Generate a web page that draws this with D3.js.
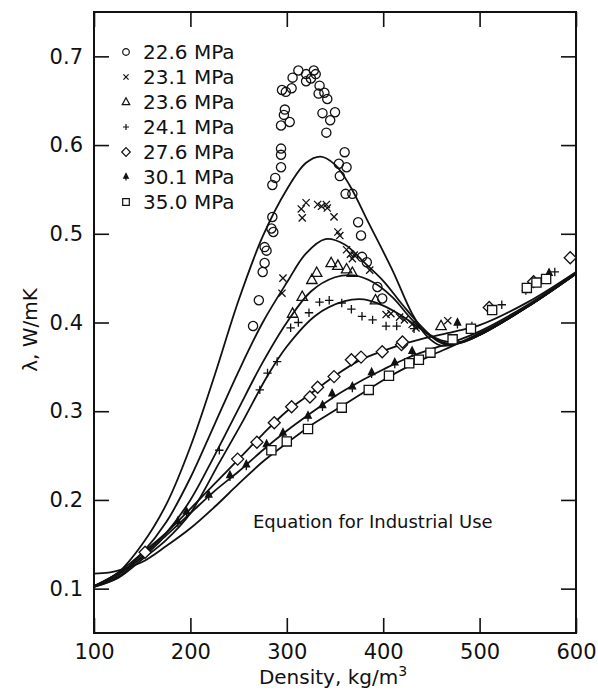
<!DOCTYPE html>
<html><head><meta charset="utf-8">
<script src="https://cdn.jsdelivr.net/npm/d3@7/dist/d3.min.js"></script>
<style>
body{margin:0;background:#fff}
text{font-family:"DejaVu Sans",sans-serif;fill:#111}
</style>
</head><body>
<svg id="chart" width="598" height="691"></svg>
<script>
// ---------- data ----------
const xTickValues = [100, 200, 300, 400, 500, 600];
const yTickValues = [0.1, 0.2, 0.3, 0.4, 0.5, 0.6, 0.7];
const seriesNames = ["22.6 MPa", "23.1 MPa", "23.6 MPa", "24.1 MPa", "27.6 MPa", "30.1 MPa", "35.0 MPa"];
const seriesSymbols = ["circle", "cross", "triangle", "plus", "diamond", "spade", "square"];

// equation curves [density, lambda]
const curve226 = [[100,0.103],[125,0.118],[150,0.15],[175,0.195],[200,0.26],[225,0.34],[250,0.425],[275,0.497],[300,0.55],[320,0.58],[335,0.587],[350,0.578],[365,0.555],[385,0.512],[410,0.458],[430,0.41],[445,0.385],[460,0.374],[480,0.377],[500,0.386],[550,0.418],[600,0.455]];
const curve231 = [[100,0.103],[125,0.115],[150,0.14],[175,0.175],[200,0.225],[225,0.285],[250,0.345],[275,0.40],[300,0.445],[320,0.478],[340,0.494],[360,0.488],[380,0.468],[400,0.447],[420,0.42],[440,0.395],[460,0.377],[480,0.377],[500,0.386],[550,0.418],[600,0.455]];
const curve236 = [[100,0.102],[125,0.113],[150,0.137],[175,0.163],[200,0.2],[225,0.25],[250,0.303],[275,0.355],[300,0.4],[325,0.435],[350,0.451],[370,0.453],[390,0.445],[410,0.428],[430,0.403],[450,0.384],[470,0.376],[500,0.386],[550,0.418],[600,0.455]];
const curve241 = [[100,0.102],[125,0.112],[150,0.133],[175,0.155],[200,0.185],[230,0.242],[255,0.29],[280,0.34],[300,0.373],[330,0.408],[360,0.424],[380,0.426],[400,0.419],[420,0.407],[440,0.392],[460,0.38],[480,0.378],[500,0.386],[550,0.418],[600,0.455]];
const curve276 = [[100,0.102],[125,0.118],[150,0.14],[175,0.163],[200,0.19],[225,0.218],[250,0.246],[275,0.274],[300,0.3],[325,0.32],[350,0.34],[375,0.357],[400,0.368],[425,0.377],[450,0.384],[475,0.39],[500,0.397],[550,0.423],[600,0.457]];
const curve301 = [[100,0.103],[125,0.117],[150,0.135],[175,0.16],[200,0.185],[225,0.21],[250,0.232],[275,0.256],[300,0.278],[325,0.298],[350,0.317],[375,0.333],[400,0.347],[425,0.36],[450,0.37],[475,0.379],[500,0.39],[550,0.42],[600,0.456]];
const curve350 = [[100,0.117],[115,0.118],[130,0.122],[150,0.13],[175,0.148],[200,0.168],[225,0.192],[250,0.218],[275,0.243],[300,0.264],[325,0.284],[350,0.301],[375,0.318],[400,0.335],[425,0.35],[450,0.363],[475,0.375],[500,0.388],[550,0.418],[600,0.455]];

// measured points [density, lambda]
const points226 = [[312,0.684],[320,0.680],[328,0.684],[330,0.680],[306,0.676],[320,0.672],[325,0.675],[295,0.662],[299,0.660],[305,0.664],[334,0.667],[333,0.658],[339,0.659],[342,0.652],[298,0.640],[297,0.634],[303,0.626],[294,0.622],[337,0.636],[350,0.637],[345,0.628],[341,0.614],[294,0.596],[294,0.589],[294,0.575],[288,0.563],[285,0.555],[360,0.592],[354,0.579],[362,0.575],[355,0.565],[361,0.545],[368,0.545],[374,0.513],[377,0.498],[285,0.519],[284,0.506],[286,0.502],[277,0.485],[279,0.481],[277,0.467],[275,0.457],[378,0.474],[383,0.468],[394,0.440],[399,0.427],[271,0.425],[265,0.396]];
const points231 = [[320,0.535],[315,0.528],[316,0.518],[332,0.533],[336,0.531],[341,0.533],[342,0.529],[349,0.519],[353,0.502],[355,0.498],[362,0.482],[366,0.477],[370,0.476],[368,0.472],[386,0.459],[296,0.450],[295,0.433],[403,0.409],[408,0.410],[417,0.406],[422,0.403],[430,0.398],[434,0.394],[467,0.402]];
const points236 = [[346,0.467],[353,0.464],[362,0.460],[368,0.456],[331,0.456],[326,0.448],[316,0.429],[306,0.410],[392,0.425],[460,0.396]];
const points241 = [[334,0.423],[344,0.425],[357,0.422],[323,0.411],[304,0.394],[312,0.400],[367,0.415],[378,0.407],[389,0.403],[403,0.396],[414,0.396],[432,0.393],[290,0.356],[280,0.343],[272,0.324],[230,0.256],[492,0.396],[523,0.420],[548,0.436],[578,0.457]];
const points276 = [[153,0.141],[249,0.246],[269,0.265],[287,0.287],[305,0.305],[324,0.316],[332,0.327],[349,0.339],[367,0.358],[377,0.361],[399,0.367],[419,0.375],[420,0.378],[510,0.417],[556,0.446],[594,0.473]];
const points301 = [[187,0.175],[196,0.186],[219,0.205],[241,0.227],[258,0.239],[279,0.262],[296,0.275],[322,0.294],[337,0.306],[347,0.319],[368,0.327],[388,0.343],[412,0.354],[430,0.367],[477,0.399],[572,0.455]];
const points350 = [[284,0.256],[300,0.266],[322,0.280],[357,0.304],[385,0.324],[406,0.340],[427,0.354],[437,0.358],[449,0.366],[472,0.381],[491,0.393],[513,0.414],[549,0.439],[559,0.445],[569,0.449]];

const curves = [curve226, curve231, curve236, curve241, curve276, curve301, curve350];
const pointSets = [points226, points231, points236, points241, points276, points301, points350];

// ---------- drawing ----------
const svg = d3.select("#chart");
const mLeft = 94, mRight = 576, mTop = 12, mBottom = 633;
const x = d3.scaleLinear().domain([100, 600]).range([mLeft, mRight]);
const y = d3.scaleLinear().domain([0.05, 0.75]).range([mBottom, mTop]);

// axes (inward ticks)
const gx = svg.append("g").attr("transform", `translate(0,${mBottom})`)
  .call(d3.axisBottom(x).tickValues(xTickValues).tickSize(-15).tickSizeOuter(0).tickPadding(11).tickFormat(d3.format("d")));
const gy = svg.append("g").attr("transform", `translate(${mLeft},0)`)
  .call(d3.axisLeft(y).tickValues(yTickValues).tickSize(-15).tickSizeOuter(0).tickPadding(11).tickFormat(d3.format(".1f")));
const gt = svg.append("g").attr("transform", `translate(0,${mTop})`)
  .call(d3.axisTop(x).tickValues(xTickValues).tickSize(-15).tickSizeOuter(0).tickFormat(""));
const gr = svg.append("g").attr("transform", `translate(${mRight},0)`)
  .call(d3.axisRight(y).tickValues(yTickValues).tickSize(-15).tickSizeOuter(0).tickFormat(""));
[gx, gy, gt, gr].forEach(g => {
  g.selectAll(".domain").remove();
  g.selectAll("line").attr("stroke", "#111").attr("stroke-width", 1.6);
  g.selectAll("text").attr("font-size", 21).attr("fill", "#111").attr("font-family", '"DejaVu Sans",sans-serif');
});

svg.append("rect").attr("x", mLeft).attr("y", mTop).attr("width", mRight - mLeft).attr("height", mBottom - mTop)
  .attr("fill", "none").attr("stroke", "#111").attr("stroke-width", 2);

// axis titles
const xt = svg.append("text").attr("x", (mLeft + mRight) / 2 - 2).attr("y", 684).attr("text-anchor", "middle").attr("font-size", 20);
xt.append("tspan").text("Density, kg/m");
xt.append("tspan").attr("dy", -8).attr("font-size", 14).text("3");
svg.append("text").attr("transform", "translate(37,330) rotate(-90)").attr("text-anchor", "middle")
  .attr("font-size", 20).text("λ, W/mK");

svg.append("text").attr("x", 253).attr("y", 528).attr("font-size", 18).text("Equation for Industrial Use");

// curves
const line = d3.line().x(d => x(d[0])).y(d => y(d[1])).curve(d3.curveCatmullRom.alpha(0.5));
const plot = svg.append("g");
curves.forEach(c => {
  plot.append("path").attr("d", line(c)).attr("fill", "none").attr("stroke", "#111").attr("stroke-width", 1.8);
});

// symbols
function symbolPath(type, s) {
  const k = v => (v * s).toFixed(2);
  switch (type) {
    case "circle": return `M${k(4.6)},0A${k(4.6)},${k(4.6)} 0 1,1 ${k(-4.6)},0A${k(4.6)},${k(4.6)} 0 1,1 ${k(4.6)},0Z`;
    case "cross": return `M${k(-3.6)},${k(-3.6)}L${k(3.6)},${k(3.6)}M${k(-3.6)},${k(3.6)}L${k(3.6)},${k(-3.6)}`;
    case "triangle": return `M0,${k(-5.8)}L${k(5.2)},${k(3.6)}L${k(-5.2)},${k(3.6)}Z`;
    case "plus": return `M${k(-4.2)},0H${k(4.2)}M0,${k(-4.2)}V${k(4.2)}`;
    case "diamond": return `M0,${k(-6)}L${k(6)},0L0,${k(6)}L${k(-6)},0Z`;
    case "spade": return `M0,${k(-4.8)}L${k(3.2)},${k(1.6)}L${k(-3.2)},${k(1.6)}ZM0,${k(1.6)}V${k(5)}`;
    case "square": return `M${k(-4.6)},${k(-4.6)}H${k(4.6)}V${k(4.6)}H${k(-4.6)}Z`;
  }
}
function symbolFill(type) {
  if (type === "spade") return "#111";
  if (type === "diamond" || type === "square") return "#fff";
  return "none";
}
pointSets.forEach((pts, i) => {
  const t = seriesSymbols[i];
  plot.selectAll(null).data(pts).enter().append("path")
    .attr("transform", d => `translate(${x(d[0])},${y(d[1])})`)
    .attr("d", symbolPath(t, 1))
    .attr("fill", symbolFill(t))
    .attr("stroke", "#111").attr("stroke-width", 1.3);
});

// legend
const legend = svg.append("g");
seriesNames.forEach((name, i) => {
  const cy = 52 + i * 25;
  const t = seriesSymbols[i];
  legend.append("path").attr("transform", `translate(126,${cy})`).attr("d", symbolPath(t, 0.72))
    .attr("fill", symbolFill(t)).attr("stroke", "#111").attr("stroke-width", 1.2);
  legend.append("text").attr("x", 143).attr("y", cy).attr("dy", "0.36em").attr("font-size", 20).text(name);
});
</script>
</body></html>
